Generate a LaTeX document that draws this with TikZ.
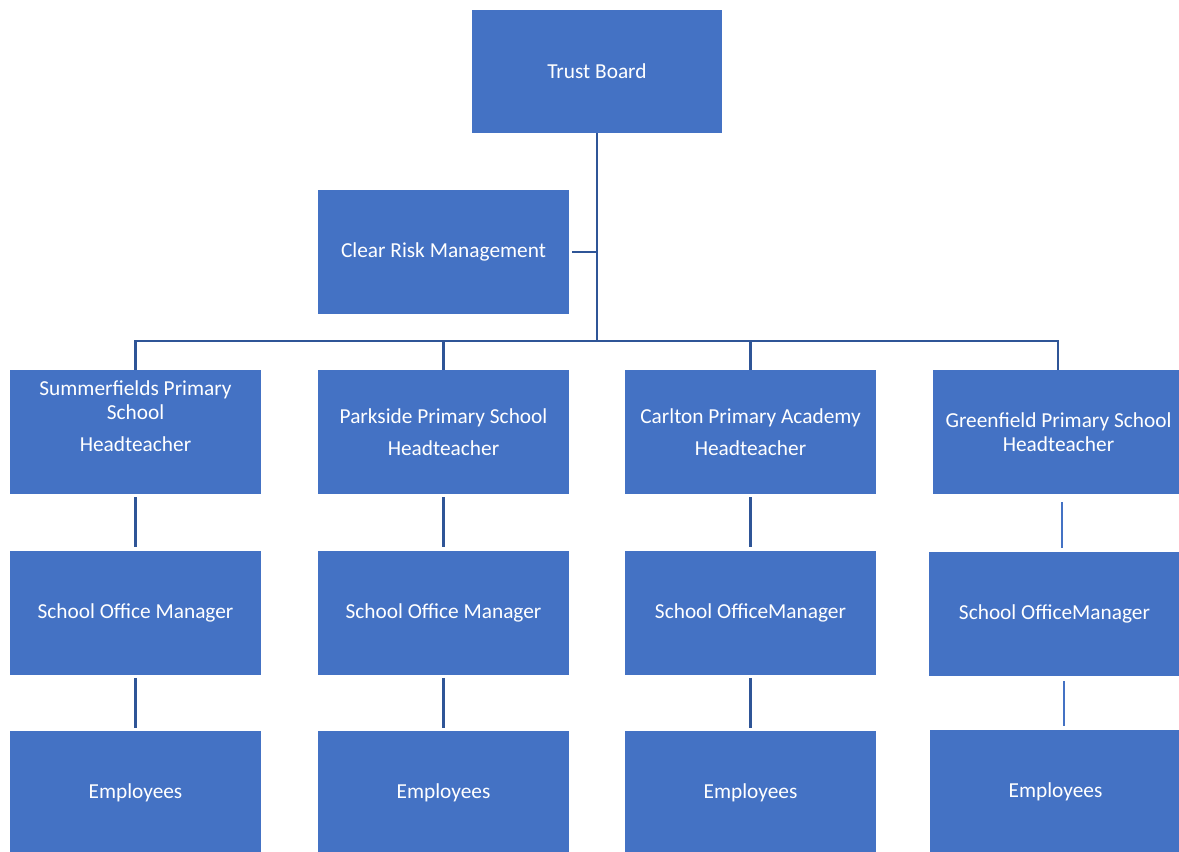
\documentclass[tikz,border=0pt]{standalone}
\usepackage{fontspec}
\setmainfont{Carlito}
\usetikzlibrary{calc}
\definecolor{boxblue}{HTML}{4472C4}
\definecolor{linedark}{HTML}{2F5597}
\begin{document}
\begin{tikzpicture}[x=0.75pt,y=-0.75pt,
  box/.style={draw=none, fill=boxblue, text=white, align=center, inner sep=0pt,
    minimum width=188.25pt, minimum height=93pt, font=\fontsize{16}{18}\selectfont},
  bus/.style={draw=linedark, line width=2.2pt},
  link/.style={draw=linedark, line width=1.6pt, shorten <=2.25pt, shorten >=2.25pt},
  thinlink/.style={draw=boxblue, line width=1pt}]
\useasboundingbox (0,0) rectangle (1179,852);
% top
\node[box, minimum width=187.5pt, minimum height=92.25pt] (TB) at (597,71.5) {Trust Board};
\node[box] (CRM) at (443.5,252) {Clear Risk Management};
% row 1
\node[box] (S1) at (135.5,432) {Summerfields Primary\\School\\[6pt]Headteacher\\[6pt]~};
\node[box] (P1) at (443.5,432) {Parkside Primary School\\[6pt]Headteacher};
\node[box] (C1) at (750.5,432) {Carlton Primary Academy\\[6pt]Headteacher};
\node[box] (G1) at (1058.5,432) {Greenfield Primary School\\Headteacher};
% row 2
\node[box] (S2) at (135.5,612.5) {School Office Manager};
\node[box] (P2) at (443.5,612.5) {School Office Manager};
\node[box] (C2) at (750.5,612.5) {School OfficeManager};
\node[box] (G2) at (1054.5,614) {School OfficeManager};
% row 3
\node[box] (S3) at (135.5,793) {Employees};
\node[box] (P3) at (443.5,793) {Employees};
\node[box] (C3) at (750.5,793) {Employees};
\node[box] (G3) at (1055.5,792) {Employees};
% connectors
\coordinate (J) at (597,341);
\draw[bus] (TB.south) -- (J);
\draw[bus, shorten <=2.25pt] (CRM.east) -- (CRM.east -| J);
\draw[bus] (S1.north) -- (S1.north |- J) -- (1058,341) -- (1058,370);
\draw[bus] (P1.north) -- (P1.north |- J);
\draw[bus] (C1.north) -- (C1.north |- J);
\draw[link] (S1) -- (S2);
\draw[link] (P1) -- (P2);
\draw[link] (C1) -- (C2);
\draw[link] (S2) -- (S3);
\draw[link] (P2) -- (P3);
\draw[link] (C2) -- (C3);
\draw[thinlink] ($(G1.south)+(3.5,8)$) -- ($(G2.north)+(7.5,-4)$);
\draw[thinlink] ($(G2.south)+(9.5,5)$) -- ($(G3.north)+(8.5,-4)$);
\end{tikzpicture}
\end{document}
